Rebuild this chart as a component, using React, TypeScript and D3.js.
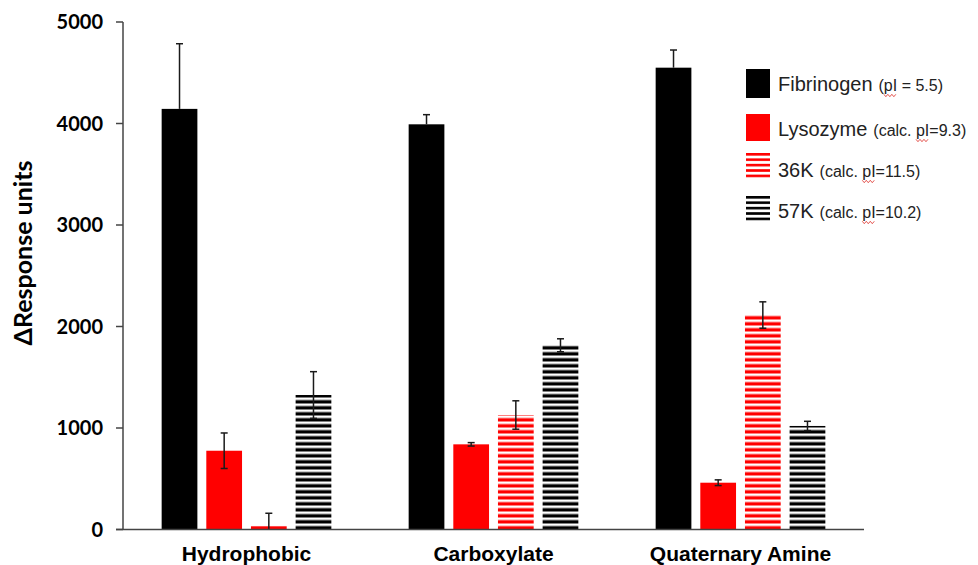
import React, { useLayoutEffect, useRef, useState } from "react";
import * as d3 from "d3";

const categories = ["Hydrophobic", "Carboxylate", "Quaternary Amine"];
const seriesNames = ["Fibrinogen", "Lysozyme", "36K", "57K"];
const seriesNotes = ["(pI = 5.5)", "(calc. pI=9.3)", "(calc. pI=11.5)", "(calc. pI=10.2)"];
const fibrinogen = [4144, 3992, 4550];
const fibrinogenErr = [642, 95, 174];
const lysozyme = [776, 839, 461];
const lysozymeErr = [175, 17, 28];
const k36 = [35, 1128, 2113];
const k36Err = [125, 140, 130];
const k57 = [1325, 1815, 1020];
const k57Err = [230, 64, 46];
const yTicks = [0, 1000, 2000, 3000, 4000, 5000];

const seriesValues = [fibrinogen, lysozyme, k36, k57];
const seriesErrs = [fibrinogenErr, lysozymeErr, k36Err, k57Err];
const fills = ["#000000", "#ff0000", "url(#stripeRed)", "url(#stripeBlack)"];

const W = 978;
const H = 565;
const axisX = 123;
const axisRight = 864;
const y0 = 529.5;
const yTop = 22;

function LegendItem({ name, note, x, y }: { name: string; note: string; x: number; y: number }) {
  const idx = note.indexOf("pI");
  const ref = useRef<SVGTSpanElement>(null);
  const [bb, setBb] = useState<{ x: number; w: number } | null>(null);
  useLayoutEffect(() => {
    if (ref.current) {
      const b = (ref.current as any).getBBox();
      setBb({ x: b.x, w: b.width });
    }
  }, []);
  let wave = "";
  if (bb) {
    const wy = y + 4.5;
    const amp = 1.2;
    const step = 2;
    const pts: [number, number][] = [];
    for (let i = 0; i * step <= bb.w; i++) {
      pts.push([bb.x + i * step, wy + (i % 2 === 0 ? -amp : amp)]);
    }
    wave = d3.line()(pts) || "";
  }
  return (
    <g>
      <text x={x} y={y} fontFamily="'Liberation Sans', Arial, sans-serif" fontSize={20} fill="#222">
        {name}
        <tspan fontSize={16} dx={6}>
          {note.slice(0, idx)}
        </tspan>
        <tspan fontSize={16} ref={ref}>
          pI
        </tspan>
        <tspan fontSize={16}>{note.slice(idx + 2)}</tspan>
      </text>
      {bb && <path d={wave} fill="none" stroke="#e0403a" strokeWidth={0.9} />}
    </g>
  );
}

export default function App() {
  const x0 = d3
    .scaleBand<string>()
    .domain(categories)
    .range([axisX, axisRight])
    .paddingInner(0.313)
    .paddingOuter(0.1565);
  const x1 = d3
    .scaleBand<string>()
    .domain(seriesNames)
    .range([0, x0.bandwidth()])
    .paddingInner(0.2)
    .paddingOuter(0);
  const y = d3.scaleLinear().domain([0, 5000]).range([y0, yTop]);

  const legendY = [69, 114, 153, 196];
  const legendH = [29, 27, 27, 27];
  const legendBase = [91, 136, 177, 218];

  return (
    <svg
      width={W}
      height={H}
      style={{ position: "absolute", left: 0, top: 0, background: "#fff" }}
    >
      <defs>
        <pattern id="stripeRed" patternUnits="userSpaceOnUse" x={0} y={y0 - 6} width={10} height={6}>
          <rect x={0} y={0} width={10} height={6} fill="#fff" />
          <rect x={0} y={2.6} width={10} height={3.4} fill="#ff0000" />
        </pattern>
        <pattern id="stripeBlack" patternUnits="userSpaceOnUse" x={0} y={y0 - 6} width={10} height={6}>
          <rect x={0} y={0} width={10} height={6} fill="#fff" />
          <rect x={0} y={2.6} width={10} height={3.4} fill="#000" />
        </pattern>
        <pattern id="legRed" patternUnits="userSpaceOnUse" x={0} y={153} width={10} height={5.4}>
          <rect x={0} y={0} width={10} height={5.4} fill="#fff" />
          <rect x={0} y={0} width={10} height={2.6} fill="#ff0000" />
        </pattern>
        <pattern id="legBlack" patternUnits="userSpaceOnUse" x={0} y={196} width={10} height={5.4}>
          <rect x={0} y={0} width={10} height={5.4} fill="#fff" />
          <rect x={0} y={0} width={10} height={2.6} fill="#000" />
        </pattern>
      </defs>

      {/* bars */}
      {categories.map((c, ci) => (
        <g key={c} transform={`translate(${x0(c)},0)`}>
          {seriesNames.map((s, si) => {
            const v = seriesValues[si][ci];
            return (
              <rect
                key={s}
                x={x1(s)!}
                y={y(v)}
                width={x1.bandwidth()}
                height={y(0) - y(v)}
                fill={fills[si]}
              />
            );
          })}
        </g>
      ))}

      {/* error bars */}
      {categories.map((c, ci) => (
        <g key={c + "e"} transform={`translate(${x0(c)},0)`}>
          {seriesNames.map((s, si) => {
            const v = seriesValues[si][ci];
            const e = seriesErrs[si][ci];
            const cx = x1(s)! + x1.bandwidth() / 2;
            const hi = v + e;
            const lo = si === 0 ? v : Math.max(0, v - e);
            return (
              <g key={s} stroke="#1a1a1a" strokeWidth={1.5}>
                <line x1={cx} x2={cx} y1={y(hi)} y2={y(lo)} />
                <line x1={cx - 3.5} x2={cx + 3.5} y1={y(hi)} y2={y(hi)} />
                {si !== 0 && v - e > 0 && (
                  <line x1={cx - 3.5} x2={cx + 3.5} y1={y(lo)} y2={y(lo)} />
                )}
              </g>
            );
          })}
        </g>
      ))}

      {/* axes */}
      <line x1={axisX} x2={axisX} y1={yTop} y2={y0} stroke="#444" strokeWidth={1.5} />
      <line x1={axisX - 7} x2={axisRight} y1={y0} y2={y0} stroke="#444" strokeWidth={1.5} />
      {yTicks.map((t) => (
        <g key={t}>
          <line x1={axisX - 7} x2={axisX} y1={y(t)} y2={y(t)} stroke="#444" strokeWidth={1.5} />
          <text
            x={axisX - 20}
            y={y(t)}
            dy="0.36em"
            textAnchor="end"
            fontFamily="Lato, 'Open Sans', sans-serif"
            fontWeight={700}
            fontSize={20}
            fill="#000"
          >
            {t}
          </text>
        </g>
      ))}
      {categories.map((c) => (
        <text
          key={c + "l"}
          x={x0(c)! + x0.bandwidth() / 2}
          y={561}
          textAnchor="middle"
          fontFamily="'Liberation Sans', Arial, sans-serif"
          fontWeight={700}
          fontSize={21}
          fill="#000"
        >
          {c}
        </text>
      ))}
      <text
        transform={`translate(32,253) rotate(-90)`}
        textAnchor="middle"
        fontFamily="Lato, 'Open Sans', sans-serif"
        fontWeight={700}
        fontSize={25}
        fill="#000"
      >
        ΔResponse units
      </text>

      {/* legend */}
      {seriesNames.map((s, i) => {
        const legFill =
          i === 0 ? "#000" : i === 1 ? "#ff0000" : i === 2 ? "url(#legRed)" : "url(#legBlack)";
        return (
          <g key={s + "leg"}>
            <rect x={746} y={legendY[i]} width={24} height={legendH[i]} fill={legFill} />
            <LegendItem name={s} note={seriesNotes[i]} x={778} y={legendBase[i]} />
          </g>
        );
      })}
    </svg>
  );
}
